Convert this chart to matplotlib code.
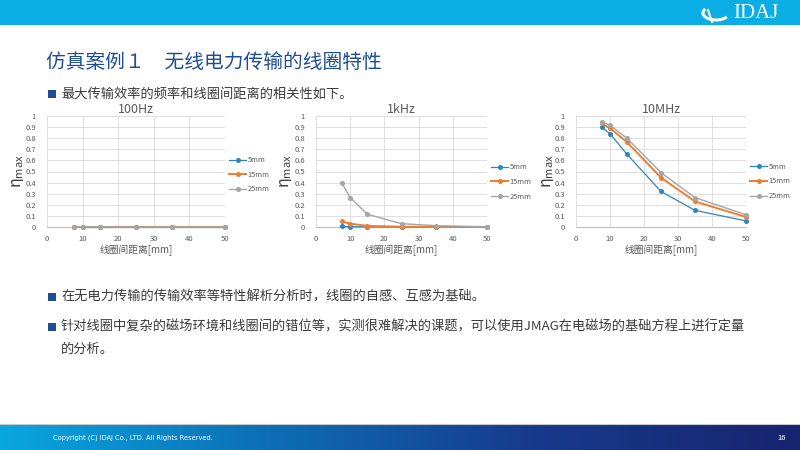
import matplotlib
matplotlib.use('Agg')
from matplotlib import pyplot as plt
from matplotlib.patches import Rectangle, Arc
from matplotlib.colors import LinearSegmentedColormap
import numpy as np

plt.rcParams['font.family'] = ['Noto Sans CJK SC', 'DejaVu Sans']
plt.rcParams['mathtext.fontset'] = 'dejavusans'

# data
distance = [7.5, 10, 15, 25, 35, 50]
series_names = ['5mm', '15mm', '25mm']
eff_100hz = {
    '5mm': [0, 0, 0, 0, 0, 0],
    '15mm': [0, 0, 0, 0, 0, 0],
    '25mm': [0.002, 0.001, 0.001, 0, 0, 0],
}
eff_1khz = {
    '5mm': [0.005, 0.003, 0.001, 0, 0, 0],
    '15mm': [0.05, 0.03, 0.01, 0.003, 0.001, 0],
    '25mm': [0.40, 0.265, 0.115, 0.03, 0.012, 0.002],
}
eff_10mhz = {
    '5mm': [0.90, 0.84, 0.655, 0.32, 0.15, 0.055],
    '15mm': [0.935, 0.89, 0.765, 0.445, 0.23, 0.09],
    '25mm': [0.95, 0.915, 0.80, 0.49, 0.265, 0.11],
}
freq_titles = ['100Hz', '1kHz', '10MHz']
colors = {'5mm': '#2E86C1', '15mm': '#ED7D31', '25mm': '#A5A5A5'}
widths = {'5mm': 0.9, '15mm': 1.4, '25mm': 1.0}

W, H = 800, 450
fig = plt.figure(figsize=(8, 4.5), dpi=100)
bg = fig.add_axes([0, 0, 1, 1])
bg.axis('off')

# header band
bg.add_patch(Rectangle((0, 0), W, 25, color='#0AAEE4', lw=0))
bg.add_patch(Arc((716, 13), 26, 14, theta1=20, theta2=200, color='white', lw=2.2))
bg.plot([708, 712], [10, 22], color='white', lw=1.5)
bg.text(733, 13, 'IDAJ', color='white', fontsize=15, family='Liberation Serif',
        va='center', ha='left')

# footer gradient
grad = np.linspace(0, 1, 256).reshape(1, -1)
cm = LinearSegmentedColormap.from_list('ft', ['#0AA6E0', '#0D6FB5', '#173A8C', '#172470'])
bg.imshow(grad, cmap=cm, extent=[0, W, 450, 424], aspect='auto')
bg.set_xlim(0, W)
bg.set_ylim(H, 0)
bg.plot([0, W], [423.5, 423.5], color='#C8C8C8', lw=0.8)
bg.text(53, 438, 'Copyright (C) IDAJ Co., LTD. All Rights Reserved.', color='white',
        fontsize=4.8, va='center', family='DejaVu Sans')
bg.text(782, 438, '16', color='white', fontsize=5.5, va='center', ha='center')

# title and bullets
bg.text(46, 62, '仿真案例１　无线电力传输的线圈特性', color='#1F4E96', fontsize=14.2,
        va='center', ha='left')
text_col = '#3A3A3A'
bullets = [
    (94, '最大传输效率的频率和线圈间距离的相关性如下。'),
    (297, '在无电力传输的传输效率等特性解析分析时，线圈的自感、互感为基础。'),
    (327, '针对线圈中复杂的磁场环境和线圈间的错位等，实测很难解决的课题，可以使用JMAG在电磁场的基础方程上进行定量'),
]
for y, s in bullets:
    bg.add_patch(Rectangle((48, y - 4), 8, 8, color='#1F4E96', lw=0))
    bg.text(61, y, s, color=text_col, fontsize=9.5, va='center', ha='left')
bg.text(61, 349, '的分析。', color=text_col, fontsize=9.5, va='center', ha='left')

# charts
boxes = [(47, 225, 116, 227), (316, 487, 116, 227), (576, 746, 116, 227)]
legend_y = [0.47, 0.405, 0.41]
ylab_x = [18, 286, 547]
datasets = [eff_100hz, eff_1khz, eff_10mhz]
tick_col = '#595959'

for i, (x0, x1, yt, yb) in enumerate(boxes):
    ax = fig.add_axes([x0 / W, 1 - yb / H, (x1 - x0) / W, (yb - yt) / H])
    data = datasets[i]
    for name in series_names:
        ax.plot(distance, data[name], color=colors[name], lw=widths[name],
                marker='o', markersize=2.6, label=name, zorder=3, clip_on=False)
    ax.set_xlim(0, 50)
    ax.set_ylim(0, 1)
    ax.set_xticks(range(0, 51, 10))
    ax.set_yticks(np.arange(0, 1.01, 0.1))
    ax.set_yticklabels(['0', '0.1', '0.2', '0.3', '0.4', '0.5', '0.6', '0.7', '0.8', '0.9', '1'])
    ax.tick_params(axis='y', length=0, labelsize=5.5, labelcolor=tick_col, pad=8)
    ax.tick_params(axis='x', length=0, labelsize=5.5, labelcolor=tick_col, pad=6)
    ax.grid(True, color='#D9D9D9', lw=0.6)
    ax.set_axisbelow(True)
    for sp in ['top', 'right', 'left']:
        ax.spines[sp].set_visible(False)
    ax.spines['bottom'].set_color('#BFBFBF')
    ax.spines['bottom'].set_linewidth(0.8)
    ax.set_title(freq_titles[i], fontsize=9, color=tick_col, pad=1)
    ax.set_xlabel('线圈间距离[mm]', fontsize=7, color=tick_col, labelpad=1)
    leg = ax.legend(loc='center left', bbox_to_anchor=(1.0, legend_y[i]), frameon=False,
                    fontsize=5.3, handlelength=2.2, handletextpad=0.3, labelspacing=0.9,
                    borderaxespad=0.2)
    for t in leg.get_texts():
        t.set_color(tick_col)
    fig.text(ylab_x[i] / W, 1 - ((yt + yb) / 2) / H, r'$\mathregular{η_{max}}$', rotation=90,
             fontsize=11.5, color='#404040', ha='center', va='center')

fig.savefig('out.png', dpi=100)
